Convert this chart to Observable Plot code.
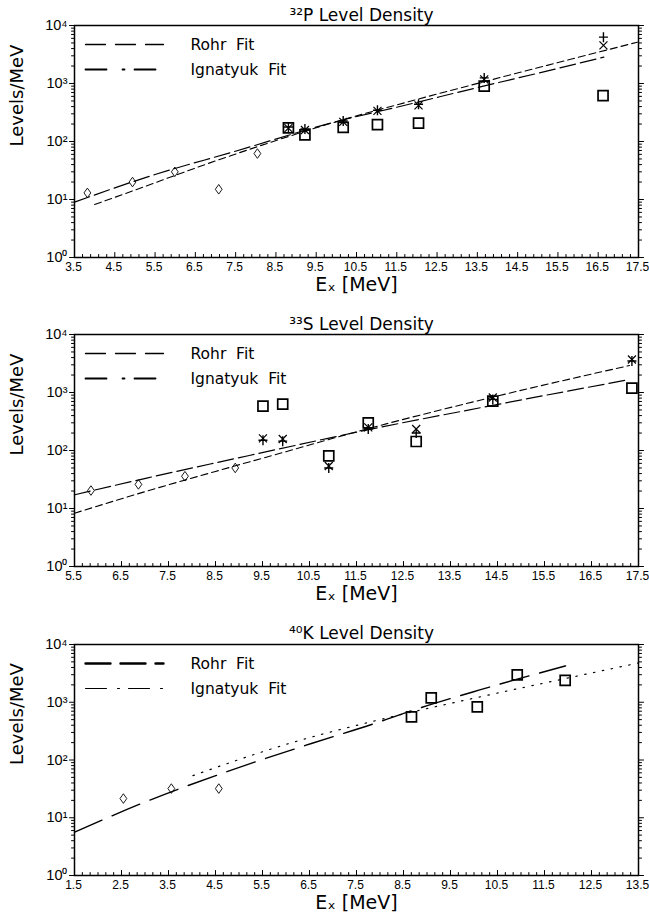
<!DOCTYPE html>
<html>
<head>
<meta charset="utf-8">
<script src="https://cdn.jsdelivr.net/npm/d3@7"></script>
<script src="https://cdn.jsdelivr.net/npm/@observablehq/plot@0.6"></script>
<style>
  body { margin: 0; background: #fff; }
  #chart { width: 649px; }
  #chart svg { display: block; }
</style>
</head>
<body>
<div id="chart"></div>
<script>
// ---------- Data ----------
// Panel 1: 32P
const p32Title = "³²P Level Density";
const p32XTicks = [3.5, 4.5, 5.5, 6.5, 7.5, 8.5, 9.5, 10.5, 11.5, 12.5, 13.5, 14.5, 15.5, 16.5, 17.5];
const p32DiamondX = [3.82, 4.94, 5.99, 7.08, 8.04];
const p32DiamondY = [13, 20, 30, 15, 62];
const p32SquareX = [8.81, 9.22, 10.17, 11.02, 12.04, 13.67, 16.62];
const p32SquareY = [172, 130, 175, 196, 208, 900, 620];
const p32CrossX = [8.81, 9.22, 10.17, 11.02, 12.04, 13.67, 16.63];
const p32PlusY = [178, 165, 225, 345, 440, 1250, 6300];
const p32TimesY = [170, 158, 218, 338, 420, 1180, 4550];
const p32RohrX = [3.5, 5.5, 7.4, 10.1, 11.5, 13.5, 15.4, 16.64];
const p32RohrY = [9.0, 27, 65, 230, 390, 850, 1750, 2850];
const p32IgnX = [4.0, 4.74, 7.14, 10.1, 12.04, 13.66, 15.39, 17.47];
const p32IgnY = [8.2, 12.5, 50, 230, 540, 1070, 2190, 5160];

// Panel 2: 33S
const s33Title = "³³S Level Density";
const s33XTicks = [5.5, 6.5, 7.5, 8.5, 9.5, 10.5, 11.5, 12.5, 13.5, 14.5, 15.5, 16.5, 17.5];
const s33DiamondX = [5.85, 6.86, 7.85, 8.92];
const s33DiamondY = [20.4, 26, 36, 50];
const s33SquareX = [9.51, 9.93, 10.91, 11.75, 12.77, 14.40, 17.36];
const s33SquareY = [580, 630, 81, 300, 143, 710, 1190];
const s33CrossX = [9.51, 9.93, 10.91, 11.75, 12.77, 14.40, 17.36];
const s33PlusY = [150, 145, 50, 235, 200, 760, 3500];
const s33TimesY = [162, 158, 54, 250, 235, 820, 3700];
const s33RohrX = [5.5, 7.06, 8.9, 10.75, 11.6, 14.4, 17.31];
const s33RohrY = [17.2, 33.8, 72, 153, 215, 600, 1675];
const s33IgnX = [5.5, 7.0, 8.5, 10.0, 11.6, 14.4, 17.31];
const s33IgnY = [8.3, 19.5, 43.6, 95.5, 221, 832, 2920];

// Panel 3: 40K
const k40Title = "⁴⁰K Level Density";
const k40XTicks = [1.5, 2.5, 3.5, 4.5, 5.5, 6.5, 7.5, 8.5, 9.5, 10.5, 11.5, 12.5, 13.5];
const k40DiamondX = [2.54, 3.56, 4.57];
const k40DiamondY = [21.5, 32, 32];
const k40SquareX = [8.67, 9.09, 10.07, 10.92, 11.94];
const k40SquareY = [558, 1190, 830, 2990, 2400];
const k40RohrX = [1.5, 2.99, 4.76, 6.54, 7.88, 8.64, 10.14, 11.95];
const k40RohrY = [5.6, 18.6, 63.5, 193, 427, 700, 1650, 4270];
const k40IgnX = [4.02, 6.0, 8.0, 10.0, 12.0, 13.5];
const k40IgnY = [53.7, 186, 501, 1175, 2630, 4790];

// Shared text
const yMajor = [1, 10, 100, 1000, 10000];
const yMinor = [2,3,4,5,6,7,8,9,20,30,40,50,60,70,80,90,200,300,400,500,600,700,800,900,2000,3000,4000,5000,6000,7000,8000,9000];
const supDigits = ["⁰","¹","²","³","⁴"];
const legendRohr = "Rohr\u00a0\u00a0Fit";
const legendIgn = "Ignatyuk\u00a0\u00a0Fit";
const xLabel = "Eₓ [MeV]";
const yLabel = "Levels/MeV";

// ---------- Symbols ----------
const diamondSym = {draw(c) { c.moveTo(0, -4.8); c.lineTo(3.4, 0); c.lineTo(0, 4.8); c.lineTo(-3.4, 0); c.closePath(); }};
const squareSym = {draw(c) { c.moveTo(-5, -5); c.lineTo(5, -5); c.lineTo(5, 5); c.lineTo(-5, 5); c.closePath(); }};
const plusSym = {draw(c) { c.moveTo(-4.5, 0); c.lineTo(4.5, 0); c.moveTo(0, -5); c.lineTo(0, 5); }};
const timesSym = {draw(c) { c.moveTo(-4, -4); c.lineTo(4, 4); c.moveTo(-4, 4); c.lineTo(4, -4); }};
const lineShape = {draw(c, l) { c.moveTo(0, 0); c.lineTo(0, -l); }};

const zip = (xs, ys) => xs.map((x, i) => ({x, y: ys[i]}));

function minorTicks(major, step) {
  const lo = major[0], hi = major[major.length - 1];
  const n = Math.round((hi - lo) / step);
  const out = [];
  for (let i = 0; i <= n; i++) {
    const v = lo + i * step;
    if (major.some(m => Math.abs(m - v) < 1e-6)) continue;
    out.push(v);
  }
  return out;
}

function panel(cfg) {
  const xDomain = [cfg.xTicks[0], cfg.xTicks[cfg.xTicks.length - 1]];
  const marks = [
    Plot.frame({strokeWidth: 1.5}),
    // x ticks (inside)
    Plot.vector(cfg.xTicks, {x: d => d, frameAnchor: "bottom", rotate: 0, anchor: "start", length: 5, shape: lineShape, strokeWidth: 1}),
    Plot.vector(minorTicks(cfg.xTicks, cfg.minorStep), {x: d => d, frameAnchor: "bottom", rotate: 0, anchor: "start", length: 3, shape: lineShape, strokeWidth: 1}),
    // y ticks (outside, both sides)
    Plot.vector(yMajor, {y: d => d, frameAnchor: "left", rotate: -90, anchor: "start", length: 5, shape: lineShape, strokeWidth: 1}),
    Plot.vector(yMinor, {y: d => d, frameAnchor: "left", rotate: -90, anchor: "start", length: 3, shape: lineShape, strokeWidth: 1}),
    Plot.vector(yMajor, {y: d => d, frameAnchor: "right", rotate: 90, anchor: "start", length: 5, shape: lineShape, strokeWidth: 1}),
    Plot.vector(yMinor, {y: d => d, frameAnchor: "right", rotate: 90, anchor: "start", length: 3, shape: lineShape, strokeWidth: 1}),
    // tick labels
    Plot.axisX(cfg.xTicks, {tickSize: 0, tickPadding: 5, dx: -1, tickFormat: d => d.toFixed(1), fontSize: 12, label: null}),
    Plot.axisY(yMajor, {anchor: "left", tickSize: 0, tickPadding: 7, tickFormat: d => "10" + supDigits[Math.round(Math.log10(d))], fontSize: 14.5, label: null}),
    // fit lines
    Plot.line(zip(cfg.rohrX, cfg.rohrY), {x: "x", y: "y", curve: "monotone-x", strokeWidth: cfg.rohrWidth, strokeDasharray: cfg.rohrDash}),
    Plot.line(zip(cfg.ignX, cfg.ignY), {x: "x", y: "y", curve: "monotone-x", strokeWidth: cfg.ignWidth, strokeDasharray: cfg.ignDash}),
    // data points
    Plot.dot(zip(cfg.diamondX, cfg.diamondY), {x: "x", y: "y", symbol: diamondSym, r: 4, fill: "none", stroke: "black", strokeWidth: 0.9}),
    Plot.dot(zip(cfg.squareX, cfg.squareY), {x: "x", y: "y", symbol: squareSym, r: 5, fill: "none", stroke: "black", strokeWidth: 1.7})
  ];
  if (cfg.crossX) {
    marks.push(
      Plot.dot(zip(cfg.crossX, cfg.plusY), {x: "x", y: "y", symbol: plusSym, r: 5, fill: "none", stroke: "black", strokeWidth: 1.4}),
      Plot.dot(zip(cfg.crossX, cfg.timesY), {x: "x", y: "y", symbol: timesSym, r: 5, fill: "none", stroke: "black", strokeWidth: 1.2})
    );
  }
  marks.push(
    // legend
    Plot.vector([0], {frameAnchor: "top-left", dx: 11, dy: cfg.legY1, rotate: 90, anchor: "start", length: 78, shape: lineShape, strokeWidth: cfg.legRohrWidth, strokeDasharray: cfg.legRohrDash}),
    Plot.vector([0], {frameAnchor: "top-left", dx: 11, dy: 44, rotate: 90, anchor: "start", length: 78, shape: lineShape, strokeWidth: cfg.legIgnWidth, strokeDasharray: cfg.legIgnDash}),
    Plot.text([legendRohr], {frameAnchor: "top-left", lineAnchor: "middle", dx: 116, dy: cfg.legY1 + 1, textAnchor: "start", fontSize: 15.5, fontFamily: "DejaVu Sans"}),
    Plot.text([legendIgn], {frameAnchor: "top-left", lineAnchor: "middle", dx: 116, dy: 45, textAnchor: "start", fontSize: 15.5, fontFamily: "DejaVu Sans"}),
    // title and axis labels
    Plot.text([cfg.title], {frameAnchor: "top", lineAnchor: "middle", dx: 5, dy: cfg.titleDy, fontSize: 17, fontFamily: "DejaVu Sans"}),
    Plot.text([xLabel], {frameAnchor: "bottom", lineAnchor: "middle", dy: 27, fontSize: 19, fontFamily: "DejaVu Sans"}),
    Plot.text([yLabel], {frameAnchor: "left", lineAnchor: "middle", dx: -57, dy: 5, rotate: -90, fontSize: 18, fontFamily: "DejaVu Sans"})
  );
  return Plot.plot({
    width: 649,
    height: cfg.height,
    marginTop: cfg.marginTop,
    marginBottom: cfg.marginBottom,
    marginLeft: 74,
    marginRight: 11,
    style: {fontFamily: "'Liberation Sans', Arial, sans-serif", color: "black", background: "white", overflow: "visible"},
    x: {domain: xDomain},
    y: {type: "log", domain: [1, 10000]},
    marks
  });
}

const chart = document.getElementById("chart");
chart.append(panel({
  title: p32Title, xTicks: p32XTicks, minorStep: 0.2,
  diamondX: p32DiamondX, diamondY: p32DiamondY,
  squareX: p32SquareX, squareY: p32SquareY,
  crossX: p32CrossX, plusY: p32PlusY, timesY: p32TimesY,
  rohrX: p32RohrX, rohrY: p32RohrY, ignX: p32IgnX, ignY: p32IgnY,
  rohrDash: "16,5", rohrWidth: 1.2, ignDash: "7,4", ignWidth: 1.1,
  legRohrDash: "20,10", legRohrWidth: 1.3, legIgnDash: "21,16,2,10", legIgnWidth: 1.8, legY1: 19,
  height: 305, marginTop: 25, marginBottom: 48, titleDy: -10
}));
chart.append(panel({
  title: s33Title, xTicks: s33XTicks, minorStep: 1 / 6,
  diamondX: s33DiamondX, diamondY: s33DiamondY,
  squareX: s33SquareX, squareY: s33SquareY,
  crossX: s33CrossX, plusY: s33PlusY, timesY: s33TimesY,
  rohrX: s33RohrX, rohrY: s33RohrY, ignX: s33IgnX, ignY: s33IgnY,
  rohrDash: "16,5", rohrWidth: 1.2, ignDash: "7,4", ignWidth: 1.1,
  legRohrDash: "20,10", legRohrWidth: 1.3, legIgnDash: "21,16,2,10", legIgnWidth: 1.8, legY1: 19,
  height: 307, marginTop: 29, marginBottom: 46, titleDy: -10
}));
chart.append(panel({
  title: k40Title, xTicks: k40XTicks, minorStep: 1 / 6,
  diamondX: k40DiamondX, diamondY: k40DiamondY,
  squareX: k40SquareX, squareY: k40SquareY,
  rohrX: k40RohrX, rohrY: k40RohrY, ignX: k40IgnX, ignY: k40IgnY,
  rohrDash: "30,11", rohrWidth: 1.4, ignDash: "1.5,7.5", ignWidth: 1.2,
  legRohrDash: "25,10", legRohrWidth: 2.4, legIgnDash: "21,11,2,9", legIgnWidth: 1.1, legY1: 19,
  height: 310, marginTop: 32, marginBottom: 47, titleDy: -11
}));
</script>
</body>
</html>
